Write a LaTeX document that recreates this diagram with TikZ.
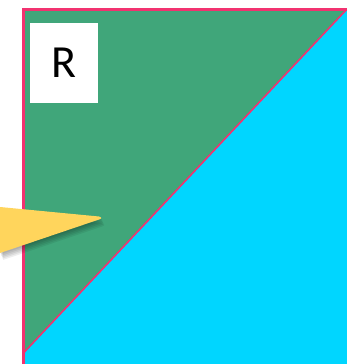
\documentclass[tikz,border=0pt]{standalone}
\usepackage{fontspec}
\setmainfont{Carlito}
\definecolor{tgreen}{RGB}{64,166,122}
\definecolor{tcyan}{RGB}{0,214,255}
\definecolor{tpink}{RGB}{242,50,112}
\definecolor{tyellow}{RGB}{255,213,92}
\tikzset{
  edgeline/.style={draw=tpink, line width=3pt},
  diagline/.style={draw=tpink, line width=1.6pt},
  labelbox/.style={fill=white, minimum width=68pt, minimum height=80pt, inner sep=0pt, font=\fontsize{46}{46}\selectfont},
  pointer/.style={fill=tyellow},
  shadowlayer/.style={fill=black, opacity=0.07}
}
\begin{document}
\begin{tikzpicture}[x=1pt,y=-1pt]
\fill[white] (0,0) rectangle (347,364);
\useasboundingbox (0,0) rectangle (347,364);
\coordinate (tl) at (23.5,9);
\coordinate (tr) at (347,9);
\coordinate (bl) at (23.5,353);
\coordinate (bb) at (23.5,364);
\coordinate (br) at (347,364);
\fill[tgreen] (tl) -- (tr) -- (bl) -- cycle;
\fill[tcyan] (tr) -- (br) -- (bb) -- (bl) -- cycle;
\draw[diagline] (tr) -- (bl);
\draw[edgeline] (bb) -- (tl) -- (tr);
\node[labelbox] (R) at (64,63) {R};
\foreach \s in {1,2,3,4,5}{
  \path[shadowlayer, shift={(0.6*\s,1.4*\s)}] (0,207) -- (99,216.5) .. controls (102,217.5) and (102,218.5) .. (99,219.5) -- (0,253) -- cycle;
}
\path[pointer] (0,207) -- (99,216.5) .. controls (102,217.5) and (102,218.5) .. (99,219.5) -- (0,253) -- cycle;
\end{tikzpicture}
\end{document}
